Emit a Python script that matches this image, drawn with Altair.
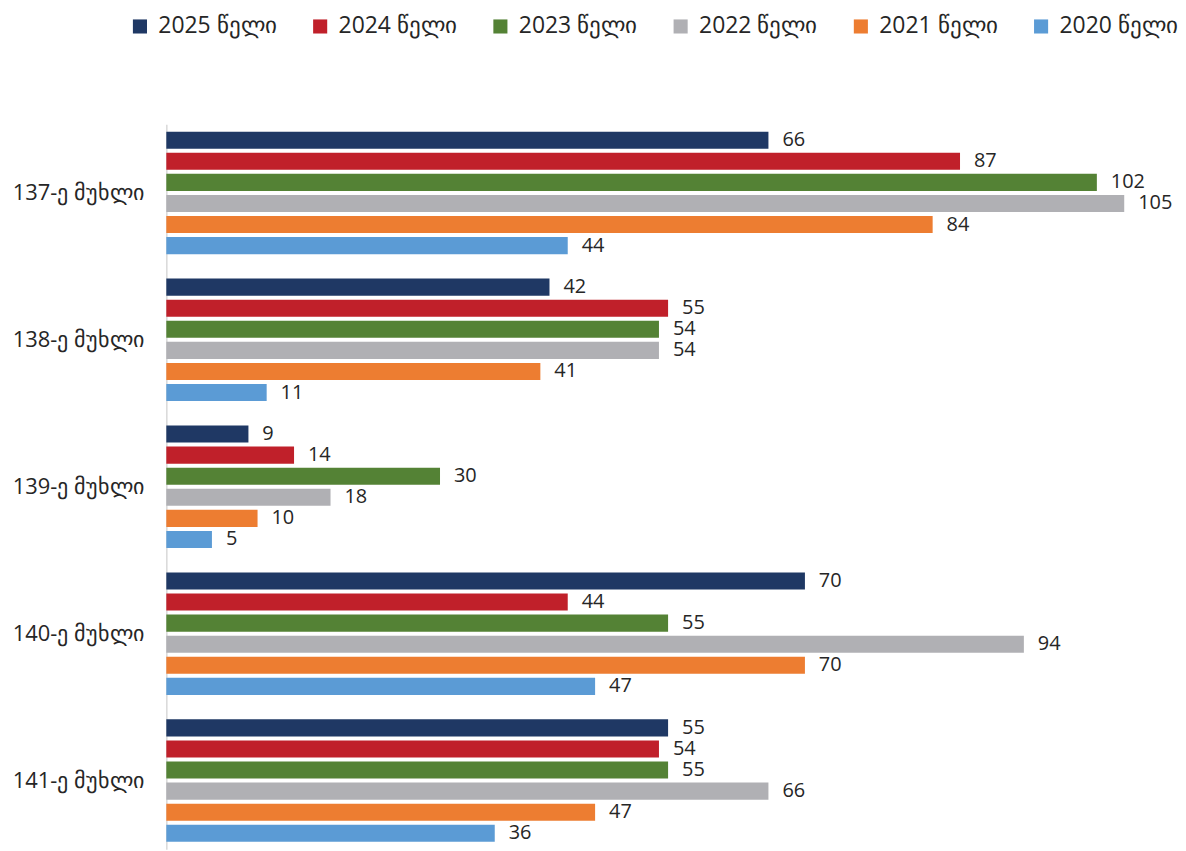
import altair as alt
import pandas as pd

categories = ["137-ე მუხლი", "138-ე მუხლი", "139-ე მუხლი", "140-ე მუხლი", "141-ე მუხლი"]
series = ["2025 წელი", "2024 წელი", "2023 წელი", "2022 წელი", "2021 წელი", "2020 წელი"]
colors = ["#1F3864", "#C0202A", "#548235", "#B0B0B4", "#ED7D31", "#5B9BD5"]
values = {
    "2025 წელი": [66, 42, 9, 70, 55],
    "2024 წელი": [87, 55, 14, 44, 54],
    "2023 წელი": [102, 54, 30, 55, 55],
    "2022 წელი": [105, 54, 18, 94, 66],
    "2021 წელი": [84, 41, 10, 70, 47],
    "2020 წელი": [44, 11, 5, 47, 36],
}

rows = []
for s in series:
    for c, v in zip(categories, values[s]):
        rows.append({"category": c, "series": s, "value": v})
df = pd.DataFrame(rows)

FONT = "Open Sans"

y = alt.Y("category:N", sort=categories,
          scale=alt.Scale(paddingInner=0.166, paddingOuter=0.05),
          axis=alt.Axis(title=None, ticks=False, grid=False, domainColor="#d9d9d9",
                        domainWidth=1.5, labelFontSize=22, labelColor="#262626",
                        labelPadding=23, labelFont=FONT))
yoff = alt.YOffset("series:N", sort=series,
                   scale=alt.Scale(paddingInner=0.19, paddingOuter=0))
x = alt.X("value:Q", scale=alt.Scale(domain=[0, 105], nice=False), axis=None)

bars = alt.Chart(df).mark_bar().encode(
    x=x, y=y, yOffset=yoff,
    color=alt.Color("series:N", sort=series,
                    scale=alt.Scale(domain=series, range=colors),
                    legend=alt.Legend(title=None, orient="none", direction="horizontal",
                                      legendX=-38, legendY=-110,
                                      symbolType="square", symbolSize=200,
                                      symbolStrokeWidth=0, labelFontSize=23,
                                      labelColor="#262626", labelFont=FONT,
                                      columnPadding=32, symbolOffset=0,
                                      labelOffset=7)),
)

labels = alt.Chart(df).mark_text(align="left", baseline="middle", dx=14,
                                 fontSize=20, color="#262626", font=FONT).encode(
    x=x, y=y, yOffset=yoff, text="value:Q"
)

chart = alt.layer(bars, labels).properties(
    width=962, height=728,
    padding={"left": 4, "top": 5, "right": 0, "bottom": 0},
).configure(font=FONT).configure_view(stroke=None)

chart.save("out.html", embed_options={"renderer": "svg", "actions": False})
